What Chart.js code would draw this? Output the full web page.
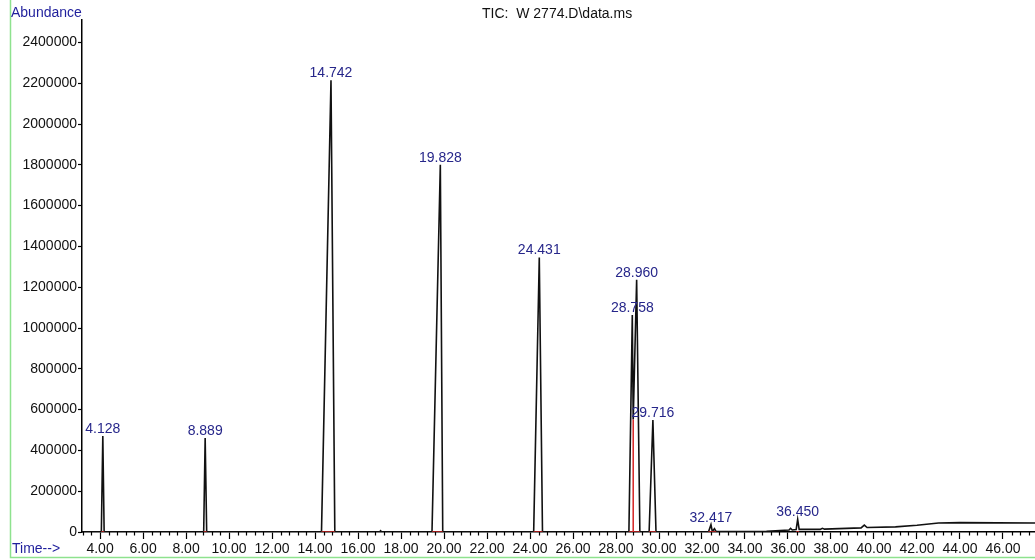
<!DOCTYPE html>
<html>
<head>
<meta charset="utf-8">
<script src="https://cdn.jsdelivr.net/npm/chart.js@4.4.1/dist/chart.umd.min.js"></script>
<style>
  html, body { margin: 0; padding: 0; background: #fff; }
  #wrap { width: 1035px; height: 560px; }
</style>
</head>
<body>
<div id="wrap"><canvas id="tic" width="1035" height="560"></canvas></div>
<script>
// TIC trace: retention time (min) and abundance
const traceTimes = [3.16, 4.06, 4.128, 4.19, 8.82, 8.889, 8.96, 14.30, 14.742, 14.92,
  17.00, 17.05, 17.10, 19.44, 19.828, 19.94, 24.17, 24.431, 24.58, 28.60, 28.758, 28.80,
  28.960, 29.11, 29.54, 29.716, 29.86, 32.30, 32.417, 32.48, 32.58, 32.66, 35.00, 36.05,
  36.12, 36.20, 36.38, 36.450, 36.52, 37.50, 37.60, 37.70, 39.40, 39.55, 39.68, 41.00,
  42.00, 43.00, 44.00, 47.49];
const traceAbund = [0, 0, 471000, 0, 0, 461000, 0, 0, 2214000, 0,
  0, 6000, 0, 0, 1800000, 0, 0, 1346000, 0, 0, 1064000, 552000,
  1236000, 0, 0, 549000, 0, 0, 36000, 2000, 16000, 2000, 4000, 10000,
  18000, 10000, 12000, 62000, 13000, 13000, 18000, 14000, 20000, 34000, 22000, 25000,
  33000, 44000, 46000, 44000];

// labelled peaks
const peakTimes = [4.128, 8.889, 14.742, 19.828, 24.431, 28.758, 28.960, 29.716, 32.417, 36.450];
const peakAbund = [471000, 461000, 2214000, 1800000, 1346000, 1064000, 1236000, 549000, 36000, 62000];

// integration marks (red): valley drop line and peak baselines
const dropTimes = [28.80, 28.80];
const dropAbund = [0, 552000];
const baseStarts = [4.06, 8.82, 14.30, 19.44, 24.17, 28.60, 29.54, 32.30, 36.38];
const baseEnds = [4.19, 8.96, 14.92, 19.94, 24.58, 29.11, 29.86, 32.66, 36.52];

const xTicks = [4, 6, 8, 10, 12, 14, 16, 18, 20, 22, 24, 26, 28, 30, 32, 34, 36, 38, 40, 42, 44, 46];
const yTicks = [0, 200000, 400000, 600000, 800000, 1000000, 1200000, 1400000, 1600000,
  1800000, 2000000, 2200000, 2400000];

const FONT = "'Liberation Sans', Arial, sans-serif";
const BLUE = "#1f1f9c";

const tracePoints = traceTimes.map((t, i) => ({ x: t, y: traceAbund[i] }));

const redPoints = dropTimes.map((t, i) => ({ x: t, y: dropAbund[i] }));
redPoints.push({ x: dropTimes[1], y: null });
baseStarts.forEach((s, i) => {
  redPoints.push({ x: s, y: 0 }, { x: baseEnds[i], y: 0 }, { x: baseEnds[i], y: null });
});

// frame, headings, minor ticks and peak labels
const decor = {
  id: "decor",
  beforeDraw(chart) {
    const ctx = chart.ctx;
    ctx.save();
    ctx.fillStyle = "#fff";
    ctx.fillRect(0, 0, chart.width, chart.height);
    ctx.restore();
  },
  afterDatasetsDraw(chart) {
    const ctx = chart.ctx;
    const xs = chart.scales.x;
    const ys = chart.scales.y;
    ctx.save();
    ctx.font = "14px " + FONT;
    ctx.fillStyle = "#26268a";
    ctx.textAlign = "center";
    ctx.textBaseline = "alphabetic";
    peakTimes.forEach((t, i) => {
      ctx.fillText(t.toFixed(3), xs.getPixelForValue(t), ys.getPixelForValue(peakAbund[i]) - 3);
    });
    ctx.restore();
  },
  afterDraw(chart) {
    const ctx = chart.ctx;
    const xs = chart.scales.x;
    const area = chart.chartArea;
    ctx.save();

    // minor ticks every 0.4 min
    ctx.strokeStyle = "#000";
    ctx.lineWidth = 1.2;
    ctx.beginPath();
    for (let k = 8; k * 0.4 <= xs.max; k++) {
      if (k % 5 === 0) continue;
      const px = Math.round(xs.getPixelForValue(k * 0.4)) + 0.5;
      ctx.moveTo(px, area.bottom);
      ctx.lineTo(px, area.bottom + 3.5);
    }
    ctx.stroke();

    // green frame
    ctx.strokeStyle = "#8ee28e";
    ctx.lineWidth = 1.5;
    ctx.beginPath();
    ctx.moveTo(10.5, 0);
    ctx.lineTo(10.5, 557.5);
    ctx.lineTo(chart.width, 557.5);
    ctx.stroke();

    ctx.font = "14px " + FONT;
    ctx.textBaseline = "middle";
    ctx.textAlign = "left";
    ctx.fillStyle = BLUE;
    ctx.fillText("Abundance", 11, 13);
    ctx.fillText("Time-->", 12, 549);
    ctx.fillStyle = "#111";
    ctx.fillText("TIC:  W 2774.D\\data.ms", 482, 14);
    ctx.restore();
  }
};

new Chart(document.getElementById("tic"), {
  type: "line",
  data: {
    datasets: [
      { data: tracePoints, borderColor: "#111", borderWidth: 1.6, order: 2 },
      { data: redPoints, borderColor: "#d42424", borderWidth: 1.5, spanGaps: false, order: 1 }
    ]
  },
  options: {
    responsive: false,
    animation: false,
    layout: { padding: { top: 20, left: 0, right: 0, bottom: 0 } },
    plugins: { legend: { display: false }, tooltip: { enabled: false } },
    elements: { point: { radius: 0 }, line: { tension: 0 } },
    scales: {
      x: {
        type: "linear",
        min: 3.16,
        max: 47.49,
        afterBuildTicks: s => { s.ticks = xTicks.map(v => ({ value: v })); },
        afterFit: s => { s.height = 28; },
        grid: { drawOnChartArea: false, drawTicks: true, tickLength: 7, tickColor: "#000", tickWidth: 1.2 },
        border: { color: "#000", width: 1.5 },
        ticks: {
          font: { family: FONT, size: 14 }, color: "#111", padding: 2,
          maxRotation: 0, autoSkip: false, callback: v => Number(v).toFixed(2)
        }
      },
      y: {
        type: "linear",
        min: 0,
        max: 2510000,
        afterBuildTicks: s => { s.ticks = yTicks.map(v => ({ value: v })); },
        afterFit: s => { s.width = 82; },
        grid: { drawOnChartArea: false, drawTicks: true, tickLength: 4, tickColor: "#000", tickWidth: 1.2 },
        border: { color: "#000", width: 1.5 },
        ticks: {
          font: { family: FONT, size: 14 }, color: "#111", padding: 1,
          callback: v => String(v)
        }
      }
    }
  },
  plugins: [decor]
});
</script>
</body>
</html>
